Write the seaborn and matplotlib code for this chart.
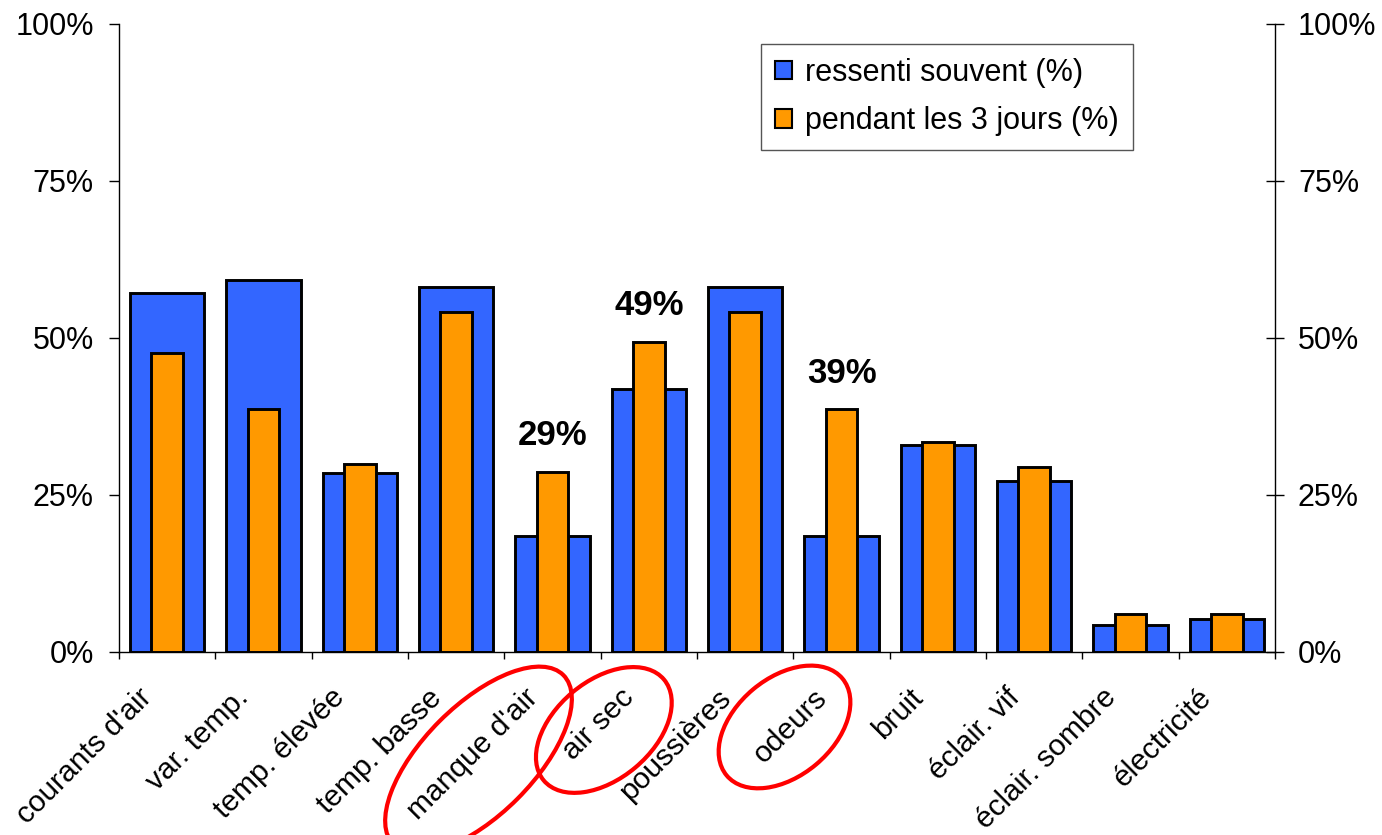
import matplotlib
matplotlib.use("Agg")
import matplotlib.pyplot as plt
import seaborn as sns
from matplotlib.patches import Ellipse, Patch
from matplotlib.transforms import IdentityTransform, ScaledTranslation
from matplotlib.ticker import FuncFormatter, FixedLocator

# data (percent)
categories = ["courants d'air", "var. temp.", "temp. élevée", "temp. basse",
              "manque d'air", "air sec", "poussières", "odeurs", "bruit",
              "éclair. vif", "éclair. sombre", "électricité"]
souvent = [57.2, 59.2, 28.5, 58.1, 18.5, 41.9, 58.1, 18.5, 33.0, 27.2, 4.3, 5.3]
trois_jours = [47.6, 38.7, 29.9, 54.1, 28.7, 49.4, 54.1, 38.7, 33.4, 29.5, 6.1, 6.1]
y_ticks = [0, 25, 50, 75, 100]

# labels that get a number on top and a red ring round the category name
highlight = ["manque d'air", "air sec", "odeurs"]
annotated = {"manque d'air": "29%", "air sec": "49%", "odeurs": "39%"}

BLUE = "#3366FF"
ORANGE = "#FF9900"

sns.set_theme(style="white")
plt.rcParams["font.family"] = ["Liberation Sans", "DejaVu Sans"]
for key in ["text.color", "axes.labelcolor", "xtick.color", "ytick.color"]:
    plt.rcParams[key] = "black"

fig = plt.figure(figsize=(13.82, 8.35), dpi=100)
ax = fig.add_axes([0.0861, 0.2192, 0.8365, 0.7521])

sns.barplot(x=categories, y=souvent, color=BLUE, saturation=1, width=0.77,
            edgecolor="black", linewidth=2.1, ax=ax)
sns.barplot(x=categories, y=trois_jours, color=ORANGE, saturation=1, width=0.33,
            edgecolor="black", linewidth=2.1, ax=ax)

ax.set_xlim(-0.5, len(categories) - 0.5)
ax.set_ylim(0, 100)
pct = FuncFormatter(lambda v, _: f"{v:.0f}%")
ax.yaxis.set_major_locator(FixedLocator(y_ticks))
ax.yaxis.set_major_formatter(pct)
ax.tick_params(axis="y", direction="out", length=7, width=1, pad=11,
               labelsize=22, colors="black", left=True)
ax.set_xlabel("")
ax.set_ylabel("")

# category names, ticks sit between the categories
ax.set_xticks(range(len(categories)))
ax.set_xticklabels(categories, rotation=45, ha="right", rotation_mode="anchor",
                   fontsize=21.5)
ax.set_xticks([i - 0.5 for i in range(len(categories) + 1)], minor=True)
ax.tick_params(axis="x", which="major", length=0, pad=14)
ax.tick_params(axis="x", which="minor", direction="out", length=5, width=1,
               color="black", bottom=True)
shift = ScaledTranslation(-29 / 100, -12 / 100, fig.dpi_scale_trans)
for lbl in ax.get_xticklabels():
    lbl.set_transform(lbl.get_transform() + shift)

for side in ["top", "right"]:
    ax.spines[side].set_visible(False)
for side in ["left", "bottom"]:
    ax.spines[side].set_color("black")
    ax.spines[side].set_linewidth(1)

# duplicate percent axis on the right
ax2 = ax.twinx()
ax2.set_ylim(0, 100)
ax2.yaxis.set_major_locator(FixedLocator(y_ticks))
ax2.yaxis.set_major_formatter(pct)
ax2.tick_params(axis="y", direction="inout", length=13, width=1, pad=10,
                labelsize=22, colors="black", right=True)
ax2.grid(False)
for side in ["top", "left", "bottom"]:
    ax2.spines[side].set_visible(False)
ax2.spines["right"].set_color("black")
ax2.spines["right"].set_linewidth(1)

# bold values over some orange bars
for name, txt in annotated.items():
    i = categories.index(name)
    ax.annotate(txt, xy=(i, trois_jours[i]), xytext=(0, 19),
                textcoords="offset points", ha="center", va="baseline",
                fontsize=25, fontweight="bold")

handles = [Patch(facecolor=BLUE, edgecolor="black", linewidth=1.5),
           Patch(facecolor=ORANGE, edgecolor="black", linewidth=1.5)]
leg = ax.legend(handles, ["ressenti souvent (%)", "pendant les 3 jours (%)"],
                loc="upper right", bbox_to_anchor=(0.877, 0.968), fontsize=22,
                handlelength=0.55, handleheight=0.55, handletextpad=0.45,
                labelspacing=0.6, borderpad=0.45, borderaxespad=0,
                fancybox=False, framealpha=1, edgecolor="#555555")
leg.get_frame().set_linewidth(1)

# red rings round the highlighted category names (pixel offsets from the tick)
ring_shapes = {
    "manque d'air": (-74, -108, 240, 110, 45),
    "air sec": (-45, -78, 157, 98, 40),
    "odeurs": (-57, -75, 151, 98, 40),
}
for name in highlight:
    i = categories.index(name)
    bx, by = ax.transData.transform((i, 0))
    dx, dy, w, h, ang = ring_shapes[name]
    ring = Ellipse((bx + dx, by + dy), w, h, angle=ang, fill=False,
                   edgecolor="#FF0000", linewidth=3, transform=IdentityTransform())
    fig.add_artist(ring)

fig.savefig("out.png", dpi=100)
